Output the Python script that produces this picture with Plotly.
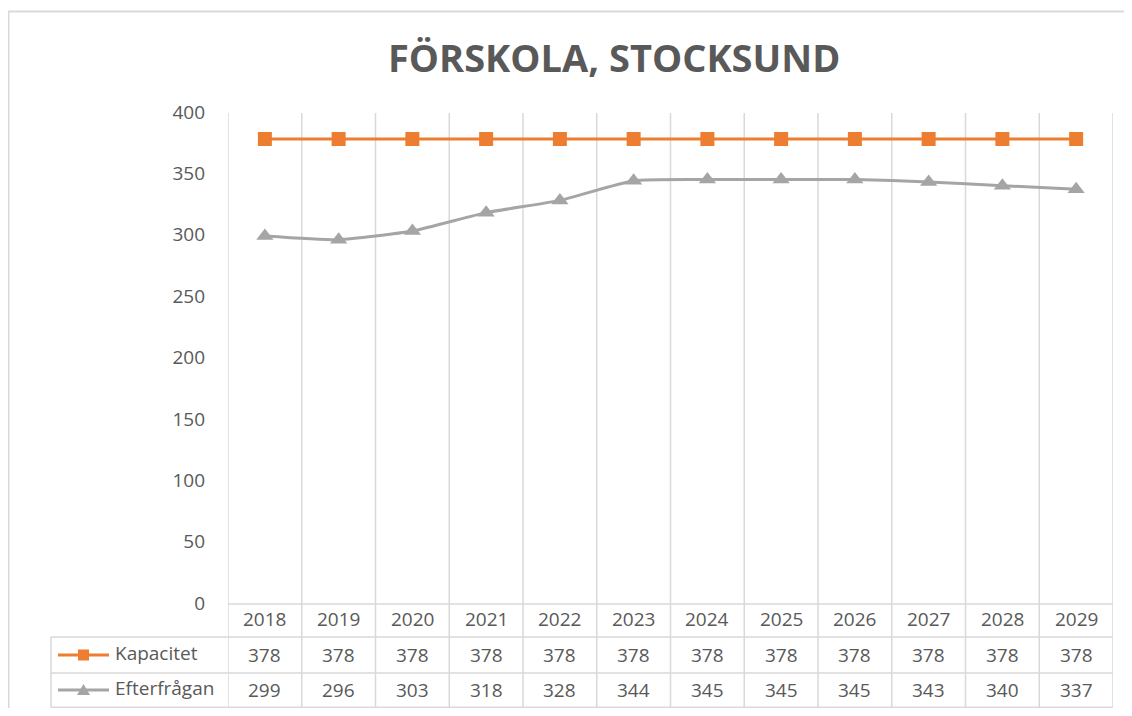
import plotly.graph_objects as go

years = ["2018", "2019", "2020", "2021", "2022", "2023", "2024", "2025", "2026", "2027", "2028", "2029"]
kapacitet = [378, 378, 378, 378, 378, 378, 378, 378, 378, 378, 378, 378]
efterfragan = [299, 296, 303, 318, 328, 344, 345, 345, 345, 343, 340, 337]
series_names = ["Kapacitet", "Efterfrågan"]
y_ticks = [0, 50, 100, 150, 200, 250, 300, 350, 400]
title = "FÖRSKOLA, STOCKSUND"

OFF = 8  # page body margin
W, H = 1132 - 2 * OFF, 716 - 2 * OFF
# screen-pixel positions of the plot area
L, R, T, B = 228, 1113, 112, 603
ORANGE = "#ED7D31"
GRAY = "#A5A5A5"
TXT = "#595959"
GRID = "#D9D9D9"
FONT = "Open Sans"
FS = 19
BOTTOM = 707.2

def xp(px):
    return (px - L) / (R - L)

def yp(py):
    return (B - py) / (B - T)

n = len(years)
xs = list(range(n))

fig = go.Figure()
fig.add_trace(go.Scatter(
    x=xs, y=kapacitet, mode="lines+markers", name=series_names[0],
    line=dict(color=ORANGE, width=3),
    marker=dict(symbol="square", size=14, color=ORANGE),
    showlegend=False, cliponaxis=False,
))
fig.add_trace(go.Scatter(
    x=xs, y=efterfragan, mode="lines+markers", name=series_names[1],
    line=dict(color=GRAY, width=3, shape="spline", smoothing=0.5),
    marker=dict(symbol="triangle-up", size=15, color=GRAY),
    showlegend=False, cliponaxis=False,
))

shapes = []
annotations = []

# outer chart border
shapes.append(dict(type="rect", xref="paper", yref="paper",
                   x0=xp(8.5), x1=xp(1150), y0=yp(11.5), y1=yp(740),
                   line=dict(color="#D9D9D9", width=2), layer="below"))

# vertical grid / table lines at category boundaries
for i in range(n + 1):
    shapes.append(dict(type="line", xref="x", yref="paper",
                       x0=i - 0.5, x1=i - 0.5, y0=yp(113), y1=yp(BOTTOM),
                       line=dict(color=GRID, width=1.5), layer="below"))
# horizontal table lines
shapes.append(dict(type="line", xref="paper", yref="paper",
                   x0=xp(L), x1=xp(R), y0=yp(604), y1=yp(604),
                   line=dict(color=GRID, width=1.5), layer="below"))
for py in [637, 673, BOTTOM]:
    shapes.append(dict(type="line", xref="paper", yref="paper",
                       x0=xp(51), x1=xp(R), y0=yp(py), y1=yp(py),
                       line=dict(color=GRID, width=1.5), layer="below"))
shapes.append(dict(type="line", xref="paper", yref="paper",
                   x0=xp(51), x1=xp(51), y0=yp(637), y1=yp(BOTTOM),
                   line=dict(color=GRID, width=1.5), layer="below"))

# header row: years
for i, yr in enumerate(years):
    annotations.append(dict(x=i, y=yp(619), xref="x", yref="paper", text=yr,
                            yanchor="middle", showarrow=False,
                            font=dict(family=FONT, size=FS, color=TXT)))
# data rows
row_y = [655, 690]
for vals, ry in zip([kapacitet, efterfragan], row_y):
    for i, v in enumerate(vals):
        annotations.append(dict(x=i, y=yp(ry), xref="x", yref="paper", text=str(v),
                                yanchor="middle", showarrow=False,
                                font=dict(family=FONT, size=FS, color=TXT)))

# legend keys in table
colors = [ORANGE, GRAY]
for k, (name, ry, col) in enumerate(zip(series_names, row_y, colors)):
    shapes.append(dict(type="line", xref="paper", yref="paper",
                       x0=xp(58), x1=xp(109), y0=yp(ry), y1=yp(ry),
                       line=dict(color=col, width=3)))
    if k == 0:
        shapes.append(dict(type="rect", xref="paper", yref="paper",
                           x0=xp(78), x1=xp(89), y0=yp(ry - 5.5), y1=yp(ry + 5.5),
                           fillcolor=col, line=dict(color=col, width=0)))
    else:
        shapes.append(dict(type="path", xref="paper", yref="paper",
                           path=f"M {xp(77)} {yp(ry + 5)} L {xp(90)} {yp(ry + 5)} L {xp(83.5)} {yp(ry - 6)} Z",
                           fillcolor=col, line=dict(color=col, width=0)))
    annotations.append(dict(x=xp(113), y=yp(ry - 2), xref="paper", yref="paper", text=name,
                            xanchor="left", yanchor="middle", showarrow=False,
                            font=dict(family=FONT, size=FS, color=TXT)))

# title
annotations.append(dict(x=xp(614), y=yp(57), xref="paper", yref="paper", text="<b>" + title + "</b>",
                        showarrow=False, xanchor="center", yanchor="middle",
                        font=dict(family=FONT, size=38, color=TXT)))

fig.update_layout(
    width=W, height=H,
    margin=dict(l=L - OFF, r=(W + OFF) - R, t=T - OFF, b=(H + OFF) - B, pad=0),
    paper_bgcolor="white", plot_bgcolor="white",
    xaxis=dict(range=[-0.5, n - 0.5], showgrid=False, zeroline=False,
               showticklabels=False, showline=False, ticks=""),
    yaxis=dict(range=[0, 400], tickvals=y_ticks, showgrid=False, zeroline=False,
               showline=False, ticks="", ticklabelstandoff=22,
               tickfont=dict(family=FONT, size=FS, color=TXT)),
    shapes=shapes, annotations=annotations,
)

fig.write_html("out.html")
